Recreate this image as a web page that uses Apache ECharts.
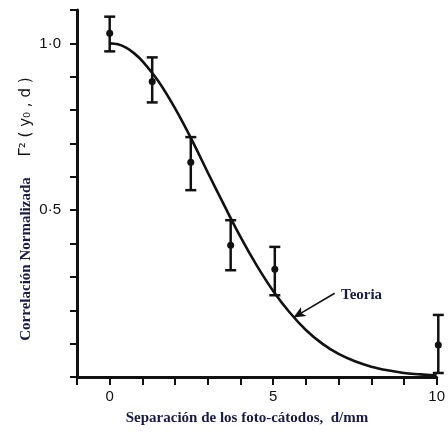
<!DOCTYPE html>
<html>
<head>
<meta charset="utf-8">
<style>
  html, body { margin: 0; padding: 0; background: #fff; }
  #chart { width: 448px; height: 432px; }
</style>
<script src="https://cdn.jsdelivr.net/npm/echarts@6/dist/echarts.min.js"></script>
</head>
<body>
<div id="chart"></div>
<script>
// theory curve
const theoryD = [0, 0.25, 0.5, 0.75, 1, 1.5, 2, 2.5, 3, 3.5, 4, 4.5, 5, 5.5, 6, 6.5, 7, 7.5, 8, 8.5, 9, 9.5, 10];
const theoryR = [1.0, 0.997, 0.987, 0.97, 0.947, 0.885, 0.805, 0.713, 0.613, 0.515, 0.42, 0.334, 0.258, 0.194, 0.141, 0.10, 0.069, 0.047, 0.031, 0.02, 0.012, 0.008, 0.004];

// measured points with error bars
const measD = [0, 1.3, 2.48, 3.7, 5.05, 10.05];
const measR = [1.03, 0.886, 0.644, 0.395, 0.323, 0.096];
const measLow = [0.976, 0.823, 0.56, 0.32, 0.245, 0.012];
const measHigh = [1.08, 0.958, 0.719, 0.47, 0.39, 0.186];

const xLabels = { 0: '0', 5: '5', 10: '10' };
const yLabels = { 5: '0\u00B75', 10: '1\u00B70' };

const ink = '#111';
const navy = '#1a1a46';

const chart = echarts.init(document.getElementById('chart'));

let curve = theoryD.map((d, i) => [d, theoryR[i]]);
let points = measD.map((d, i) => [d, measR[i], measLow[i], measHigh[i]]);

const option = {
  animation: false,
  backgroundColor: '#fff',
  grid: { left: 77, right: 6, top: 10, bottom: 55 },
  xAxis: {
    type: 'value',
    min: -1,
    max: 10,
    interval: 1,
    splitLine: { show: false },
    axisLine: { onZero: false, lineStyle: { color: ink, width: 3 } },
    axisTick: { length: 8, lineStyle: { color: ink, width: 2 } },
    axisLabel: {
      margin: 12,
      color: ink,
      fontFamily: 'Liberation Sans',
      fontSize: 15,
      formatter: v => xLabels[Math.round(v)] || ''
    }
  },
  yAxis: {
    type: 'value',
    min: 0,
    max: 1.1,
    interval: 0.1,
    splitLine: { show: false },
    axisLine: { onZero: false, lineStyle: { color: ink, width: 3 } },
    axisTick: { length: 7, lineStyle: { color: ink, width: 2 } },
    axisLabel: {
      margin: 16,
      color: ink,
      fontFamily: 'Liberation Sans',
      fontSize: 15,
      formatter: v => yLabels[Math.round(v * 10)] || ''
    }
  },
  graphic: [
    {
      type: 'text',
      x: 26, y: 259,
      rotation: Math.PI / 2,
      style: {
        text: 'Correlación Normalizada',
        font: 'bold 15px "Liberation Serif"',
        fill: navy,
        align: 'center',
        verticalAlign: 'middle'
      }
    },
    {
      type: 'text',
      x: 26, y: 117,
      rotation: Math.PI / 2,
      style: {
        text: 'Γ² ( y₀ , d )',
        font: '15px "DejaVu Sans"',
        fill: ink,
        align: 'center',
        verticalAlign: 'middle'
      }
    },
    {
      type: 'text',
      x: 247, y: 418,
      style: {
        text: 'Separación de los foto-cátodos,  d/mm',
        font: 'bold 15px "Liberation Serif"',
        fill: navy,
        align: 'center',
        verticalAlign: 'middle'
      }
    },
    {
      type: 'text',
      x: 341, y: 295,
      style: {
        text: 'Teoria',
        font: 'bold 15px "Liberation Serif"',
        fill: navy,
        align: 'left',
        verticalAlign: 'middle'
      }
    }
  ],
  series: [
    {
      name: 'Teoria',
      type: 'line',
      data: curve,
      smooth: 0.35,
      symbol: 'none',
      lineStyle: { color: ink, width: 2.6 },
      markLine: {
        silent: true,
        symbol: ['none', 'arrow'],
        symbolSize: [8, 12],
        label: { show: false },
        lineStyle: { color: ink, width: 1.6, type: 'solid' },
        data: [[{ coord: [6.88, 0.251] }, { coord: [5.62, 0.178] }]]
      }
    },
    {
      name: 'medidas',
      type: 'custom',
      data: points,
      renderItem: function (params, api) {
        const c = api.coord([api.value(0), api.value(1)]);
        const lo = api.coord([api.value(0), api.value(2)]);
        const hi = api.coord([api.value(0), api.value(3)]);
        const w = 5.5;
        const st = { stroke: ink, lineWidth: 2.5 };
        return {
          type: 'group',
          children: [
            { type: 'line', shape: { x1: c[0], y1: lo[1], x2: c[0], y2: hi[1] }, style: st },
            { type: 'line', shape: { x1: c[0] - w, y1: lo[1], x2: c[0] + w, y2: lo[1] }, style: st },
            { type: 'line', shape: { x1: c[0] - w, y1: hi[1], x2: c[0] + w, y2: hi[1] }, style: st },
            { type: 'circle', shape: { cx: c[0], cy: c[1], r: 3.5 }, style: { fill: ink } }
          ]
        };
      }
    }
  ]
};

chart.setOption(option);
</script>
</body>
</html>
